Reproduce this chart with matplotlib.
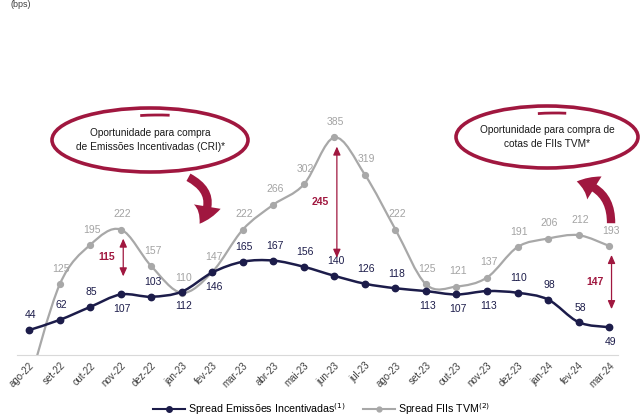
import numpy as np
import matplotlib.pyplot as plt
from matplotlib.path import Path
from matplotlib.patches import PathPatch, Ellipse, Arc, FancyArrowPatch

plt.rcParams['font.family'] = ['Liberation Sans', 'DejaVu Sans']

months = ['ago-22', 'set-22', 'out-22', 'nov-22', 'dez-22', 'jan-23', 'fev-23',
          'mar-23', 'abr-23', 'mai-23', 'jun-23', 'jul-23', 'ago-23', 'set-23',
          'out-23', 'nov-23', 'dez-23', 'jan-24', 'fev-24', 'mar-24']
spread_cri = [44, 62, 85, 107, 103, 112, 146, 165, 167, 156, 140, 126, 118,
              113, 107, 113, 110, 98, 58, 49]
# first month of the FII series sits below zero and is not labelled
spread_fii = [-50, 125, 195, 222, 157, 110, 147, 222, 266, 302, 385, 319, 222,
              125, 121, 137, 191, 206, 212, 193]
gap_idx = [3, 10, 19]
gap_labels = [115, 245, 147]

# label placement: +1 above the point, -1 below
cri_side = [1, 1, 1, -1, 1, -1, -1, 1, 1, 1, 1, 1, 1, -1, -1, -1, 1, 1, 1, -1]

C_CRI = '#1c1c4a'
C_FII = '#a8a8a8'
C_FII_TXT = '#a3a3a3'
C_RED = '#a0173f'


def smooth_path(xs, ys):
    # Catmull-Rom spline written as cubic Bezier segments
    pts = np.column_stack([xs, ys]).astype(float)
    ext = np.vstack([pts[0], pts, pts[-1]])
    verts = [pts[0]]
    codes = [Path.MOVETO]
    for i in range(len(pts) - 1):
        p0, p1, p2, p3 = ext[i], ext[i + 1], ext[i + 2], ext[i + 3]
        verts += [p1 + (p2 - p0) / 6, p2 - (p3 - p1) / 6, p2]
        codes += [Path.CURVE4] * 3
    return Path(verts, codes)


fig = plt.figure(figsize=(6.43, 4.2), dpi=100)
ax = fig.add_axes([0.0265, 0.155, 0.935, 0.80])
x = np.arange(len(months))

ax.add_patch(PathPatch(smooth_path(x, spread_fii), fill=False, color=C_FII, lw=1.6, zorder=2))
ax.add_patch(PathPatch(smooth_path(x, spread_cri), fill=False, color=C_CRI, lw=1.8, zorder=3))
ax.plot(x, spread_fii, ls='none', marker='o', ms=4.2, color=C_FII, zorder=2)
ax.plot(x, spread_cri, ls='none', marker='o', ms=4.6, color=C_CRI, zorder=3)

ax.set_xlim(-0.4, 19.3)
ax.set_ylim(0, 595)

for i, v in enumerate(spread_fii):
    if i == 0:
        continue
    ax.annotate(str(v), (i, v), xytext=(1, 11), textcoords='offset points',
                ha='center', va='center', fontsize=7.5, color=C_FII_TXT)

for i, v in enumerate(spread_cri):
    ax.annotate(str(v), (i, v), xytext=(1, 10.5 * cri_side[i]), textcoords='offset points',
                ha='center', va='center', fontsize=7.5, color=C_CRI)

# double arrows showing the gap between the two spreads
for i, lab in zip(gap_idx, gap_labels):
    top = spread_fii[i] - 16
    bot = spread_cri[i] + 32
    ax.annotate('', xy=(i + 0.08, top), xytext=(i + 0.08, bot),
                arrowprops=dict(arrowstyle='<|-|>,head_length=0.5,head_width=0.22',
                                color=C_RED, lw=0.9, shrinkA=0, shrinkB=0))
    ax.text(i - 0.45, (top + bot) / 2, str(lab), ha='center', va='center',
            fontsize=7.5, fontweight='bold', color=C_RED)

ax.set_xticks(x)
ax.set_xticklabels(months, rotation=45, ha='right', rotation_mode='anchor',
                   fontsize=7, color='#404040')
ax.tick_params(axis='x', length=0, pad=4)
ax.set_yticks([])
for s in ['top', 'left', 'right']:
    ax.spines[s].set_visible(False)
ax.spines['bottom'].set_color('#d9d9d9')
ax.spines['bottom'].set_linewidth(0.8)

# legend
h1, = ax.plot([], [], color=C_CRI, marker='o', ms=4, lw=1.5)
h2, = ax.plot([], [], color=C_FII, marker='o', ms=3.5, lw=1.5)
fig.legend([h1, h2], [r'Spread Emissões Incentivadas$^{(1)}$', r'Spread FIIs TVM$^{(2)}$'],
           loc='lower center', bbox_to_anchor=(0.5, -0.015), ncol=2, frameon=False,
           fontsize=7.7, handlelength=3.0, columnspacing=1.6, handletextpad=0.3)

fig.text(0.017, 0.999, '(bps)', fontsize=6.5, color='#404040', va='top')

# callouts drawn in pixel space on an overlay
ov = fig.add_axes([0, 0, 1, 1])
ov.set_xlim(0, 643)
ov.set_ylim(420, 0)
ov.axis('off')

callouts = [
    ((150, 140), 196, 64, 'Oportunidade para compra\nde Emissões Incentivadas (CRI)*'),
    ((547, 137), 182, 62, 'Oportunidade para compra de\ncotas de FIIs TVM*'),
]
for (cx, cy), w, h, txt in callouts:
    ov.add_patch(Ellipse((cx, cy), w, h, fill=False, ec=C_RED, lw=2.6))
    # second stroke just inside the top edge, like a pen loop
    ov.add_patch(Arc((cx + 8, cy + 4), w - 14, h - 6, theta1=238, theta2=292,
                     ec=C_RED, lw=2.0))
    ov.text(cx, cy, txt, ha='center', va='center', fontsize=7.3,
            color='#1a1a1a', linespacing=1.5)

ov.add_patch(FancyArrowPatch((186, 176), (198, 226), connectionstyle='arc3,rad=-0.6',
                             arrowstyle='simple,head_length=0.9,head_width=1.3,tail_width=0.4',
                             mutation_scale=15, color=C_RED, lw=0))
ov.add_patch(FancyArrowPatch((611, 226), (574, 181), connectionstyle='arc3,rad=0.45',
                             arrowstyle='simple,head_length=0.9,head_width=1.3,tail_width=0.4',
                             mutation_scale=15, color=C_RED, lw=0))

fig.savefig('out.png', dpi=100)
